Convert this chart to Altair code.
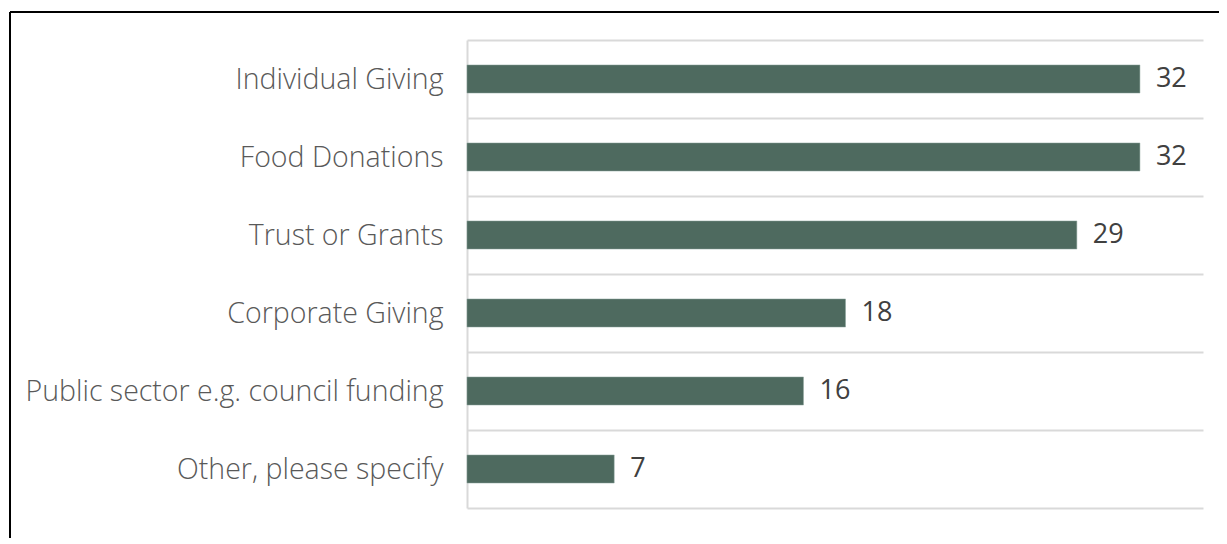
import altair as alt
import pandas as pd

categories = ["Individual Giving", "Food Donations", "Trust or Grants",
              "Corporate Giving", "Public sector e.g. council funding",
              "Other, please specify"]
values = [32, 32, 29, 18, 16, 7]

df = pd.DataFrame({"category": categories, "value": values})

W, H = 736, 468
FONT = "Open Sans"

y_enc = alt.Y("category:N", sort=categories, title=None,
              scale=alt.Scale(paddingInner=0, paddingOuter=0),
              axis=alt.Axis(labelFont=FONT, labelFontSize=28.5, labelColor="#595959",
                            labelFontWeight=300,
                            labelPadding=24, ticks=False, tickSize=0,
                            domain=True, domainColor="#d9d9d9", domainWidth=2,
                            grid=True, gridColor="#d9d9d9", gridWidth=2,
                            tickBand="extent", labelLimit=600))
x_enc = alt.X("value:Q", title=None, axis=None,
              scale=alt.Scale(domain=[0, 35], nice=False, zero=True))

bars = alt.Chart(df).mark_bar(color="#4E6A5F", stroke="#8aa39a", strokeWidth=0.5,
                              height=alt.RelativeBandSize(0.36)).encode(
    x=x_enc, y=y_enc)

labels = alt.Chart(df).mark_text(align="left", baseline="middle", dx=16,
                                 font=FONT, fontSize=27, color="#404040").encode(
    x=x_enc, y=alt.Y("category:N", sort=categories), text="value:Q")

frame_df = pd.DataFrame({"k": ["frame"]})
top_line = alt.Chart(frame_df).mark_rule(color="black", strokeWidth=2).encode(
    x=alt.value(-457), x2=alt.value(W + 40), y=alt.value(-28))
left_line = alt.Chart(frame_df).mark_rule(color="black", strokeWidth=2).encode(
    x=alt.value(-457), y=alt.value(-28), y2=alt.value(H + 60))

chart = alt.layer(bars, labels, top_line, left_line).properties(
    width=W, height=H,
    autosize=alt.AutoSizeParams(type="none"),
    padding={"left": 459, "top": 32, "right": 16, "bottom": 30},
).configure_view(stroke=None)

chart.save("out.html", embed_options={"renderer": "svg", "actions": False})
